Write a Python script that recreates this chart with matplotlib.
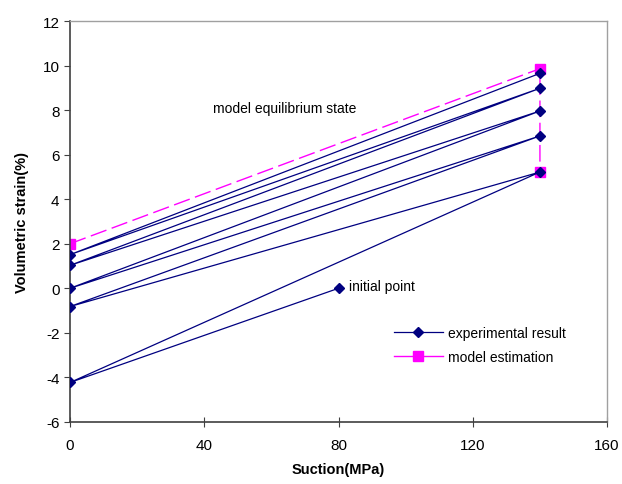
import matplotlib.pyplot as plt

plt.rcParams['font.family'] = ['Liberation Sans', 'DejaVu Sans']
plt.rcParams['axes.unicode_minus'] = False

# experimental loading path (suction MPa, volumetric strain %)
exp_suction = [80, 0, 140, 0, 140, 0, 140, 0, 140, 0, 140]
exp_strain = [0.0, -4.23, 5.22, -0.82, 6.84, 0.0, 7.96, 1.03, 8.98, 1.51, 9.65]

# model estimation
model_suction = [0, 140, 140]
model_strain = [2.0, 9.86, 5.22]

x_ticks = [0, 40, 80, 120, 160]
y_ticks = [-6, -4, -2, 0, 2, 4, 6, 8, 10, 12]

fig = plt.figure(figsize=(6.22, 4.85), dpi=100)
ax = fig.add_axes([0.1125, 0.128, 0.8635, 0.8266])

ax.plot(exp_suction, exp_strain, color="#000080", linewidth=0.9, marker="D",
        markersize=5, label="experimental result", zorder=3)
ax.plot(model_suction, model_strain, color="#ff00ff", linewidth=1.0,
        dashes=(12, 4), marker="s", markersize=6.5, label="model estimation", zorder=2)

ax.text(42.5, 8.1, "model equilibrium state", fontsize=10, va="center", ha="left")
ax.text(83, 0.1, "initial point", fontsize=10, va="center", ha="left")

ax.set_xlim(0, 160)
ax.set_ylim(-6, 12)
ax.set_xticks(x_ticks)
ax.set_yticks(y_ticks)
ax.tick_params(axis="both", labelsize=11, colors="#404040", labelcolor="black", length=4)
ax.tick_params(axis="x", direction="inout", length=7, pad=8)
ax.set_xlabel("Suction(MPa)", fontsize=10.5, fontweight="bold", labelpad=7)
ax.set_ylabel("Volumetric strain(%)", fontsize=10.5, fontweight="bold", labelpad=10)

for side in ["left", "bottom"]:
    ax.spines[side].set_color("#404040")
    ax.spines[side].set_linewidth(1.2)
for side in ["top", "right"]:
    ax.spines[side].set_color("#a0a0a0")
    ax.spines[side].set_linewidth(1.0)

leg = ax.legend(loc="upper left", bbox_to_anchor=(0.58, 0.27), frameon=False,
                fontsize=10, handlelength=3.5, handletextpad=0.4, labelspacing=0.7)
for h in leg.get_lines():
    h.set_linestyle("-")

fig.savefig("out.png", dpi=100)
plt.close(fig)
